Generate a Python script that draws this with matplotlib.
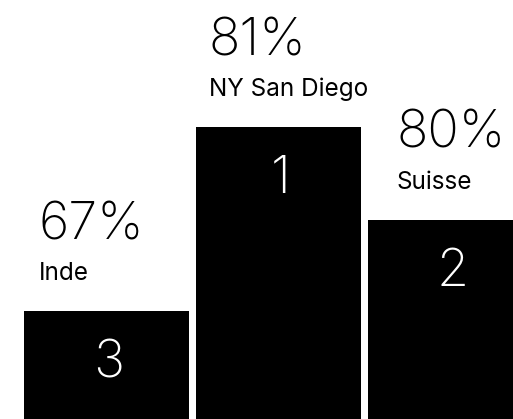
import matplotlib
matplotlib.use("Agg")
import matplotlib.pyplot as plt

# podium data (left to right)
places = ["Inde", "NY San Diego", "Suisse"]
percents = ["67%", "81%", "80%"]
ranks = ["3", "1", "2"]
podium_height = [108, 292, 199]   # step height (px units)

plt.rcParams['font.family'] = ['Inter', 'DejaVu Sans']

fig = plt.figure(figsize=(5.13, 4.19), dpi=100, facecolor='w')
ax = fig.add_axes([0, 0, 1, 1])
ax.set_xlim(0, 513)
ax.set_ylim(0, 419)
ax.axis('off')

left0, step, width = 24, 172, 165
lefts = [left0 + step*i for i in range(len(places))]
text_dx = [15, 13, 28]

ax.bar(lefts, podium_height, width=width, align='edge', color='black')

for i in range(len(places)):
    top = podium_height[i]
    x = lefts[i] + text_dx[i]
    ax.text(x, top + 72, percents[i], fontsize=37.5, fontweight='light',
            ha='left', va='baseline', color='black')
    ax.text(x, top + 31, places[i], fontsize=17.5,
            ha='left', va='baseline', color='black')
    ax.text(lefts[i] + width/2 + 2, top - 66, ranks[i], fontsize=37.5, fontweight='light',
            ha='center', va='baseline', color='white')

fig.savefig("out.png", dpi=100)
